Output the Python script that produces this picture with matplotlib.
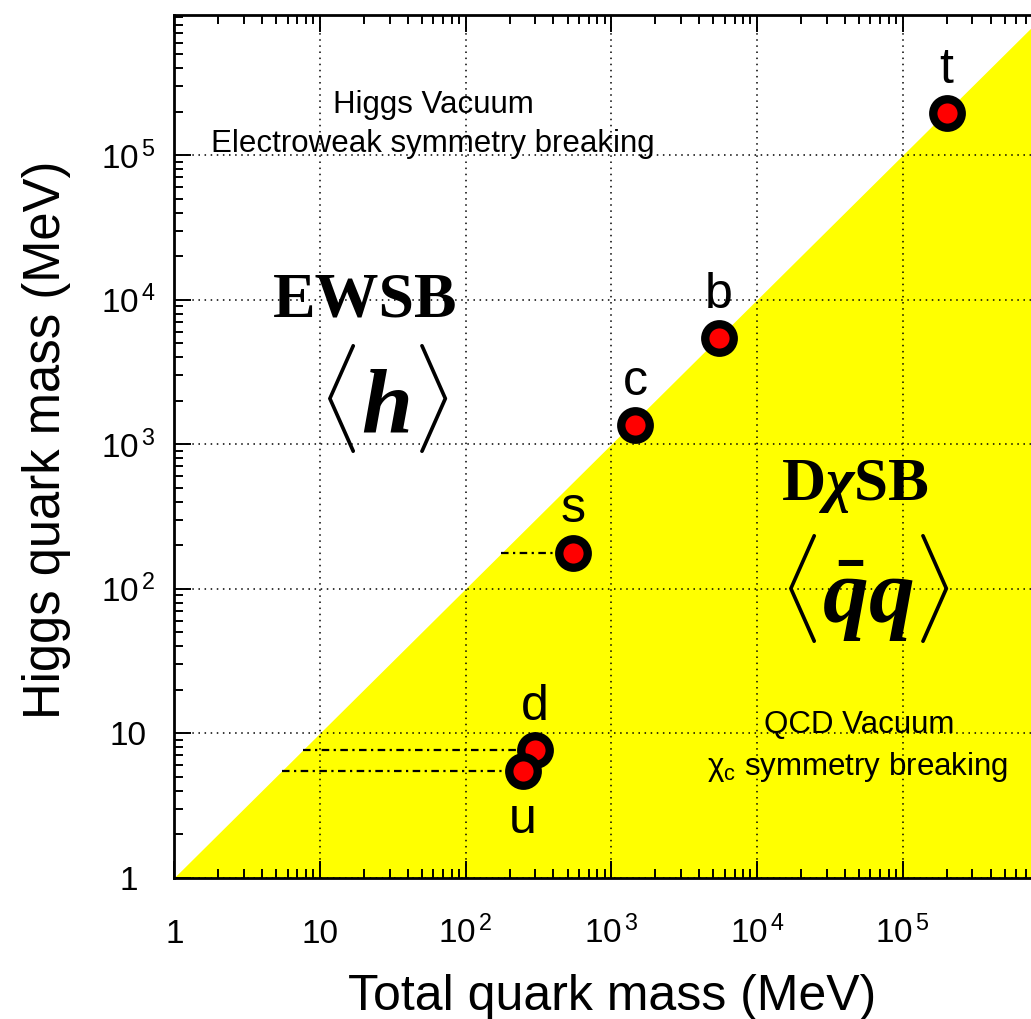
import numpy as np
import matplotlib.pyplot as plt
from matplotlib.ticker import FixedLocator, LogLocator, NullFormatter

plt.rcParams['font.family'] = 'Liberation Sans'
plt.rcParams['mathtext.fontset'] = 'custom'
plt.rcParams['mathtext.rm'] = 'Liberation Sans'
plt.rcParams['mathtext.it'] = 'Liberation Sans:italic'
plt.rcParams['mathtext.bf'] = 'Liberation Serif:bold'
plt.rcParams['mathtext.bfit'] = 'Liberation Serif:italic:bold'

# Quark masses in MeV: total mass vs. the part coming from the Higgs
quarks = ['t', 'b', 'c', 's', 'd', 'u']
total_mass = [2.0e5, 5480, 1450, 545, 299, 247]
higgs_mass = [1.95e5, 5390, 1350, 176, 7.6, 5.5]
label_below = ['u']

decades = [1, 10, 1e2, 1e3, 1e4, 1e5]
decade_labels = ['1', '10', r'$10^{\,2}$', r'$10^{\,3}$', r'$10^{\,4}$', r'$10^{\,5}$']

W, H = 1031, 1019
fig = plt.figure(figsize=(W / 100, H / 100), dpi=100)
# axes run out to 10^6 on the right, past the edge of the canvas
ax = fig.add_axes([174.3 / W, (H - 877.5) / H, 874.2 / W, 862.5 / H])
ax.set_xscale('log')
ax.set_yscale('log')
ax.set_xlim(1, 1e6)
ax.set_ylim(1, 10 ** 5.969)

# region below the diagonal (all mass dynamical)
diag = np.array([1, 1e6])
ax.fill_between(diag, 1, diag, color='#ffff00', lw=0, zorder=0)

ax.grid(True, which='major', color='black', lw=1.1, linestyle=(0, (1, 3)))

# guides from the diagonal to each point
for x, y in zip(total_mass, higgs_mass):
    ax.plot([y, x], [y, y], color='black', lw=1.6, linestyle=(0, (3.4, 2, 1, 2)), zorder=2)

for q, x, y in zip(quarks, total_mass, higgs_mass):
    ax.plot(x, y, 'o', ms=20.5, mfc='red', mec='black', mew=6.0, zorder=3)
    dy = -45 if q in label_below else 22
    ax.annotate(q, (x, y), xytext=(0, dy), textcoords='offset points',
                ha='center', va='baseline', fontsize=36)

# ticks
for axis in (ax.xaxis, ax.yaxis):
    axis.set_major_locator(FixedLocator(decades))
    axis.set_minor_locator(LogLocator(base=10, subs=np.arange(2, 10), numticks=20))
    axis.set_minor_formatter(NullFormatter())
ax.set_xticklabels(decade_labels)
ax.set_yticklabels(decade_labels)
ax.tick_params(which='both', direction='in', top=True, right=True, width=1.4, colors='black')
ax.tick_params(which='major', length=12, labelsize=24)
ax.tick_params(which='minor', length=6.5)
ax.tick_params(axis='x', which='major', pad=47)
ax.tick_params(axis='y', which='major', pad=33)
plt.setp(ax.get_xticklabels(), va='baseline')
plt.setp(ax.get_yticklabels(), ha='center')
for s in ax.spines.values():
    s.set_linewidth(2.0)

# axis titles
fig.text(612 / W, 1 - 1010 / H, 'Total quark mass (MeV)', fontsize=36,
         ha='center', va='baseline')
fig.text(60 / W, 1 - 440 / H, 'Higgs quark mass (MeV)', fontsize=36.5,
         ha='center', va='baseline', rotation=90, rotation_mode='anchor')

# region annotations
ax.text(0.296, 0.886, 'Higgs Vacuum', transform=ax.transAxes, fontsize=22.5,
        ha='center', va='baseline')
ax.text(0.296, 0.841, 'Electroweak symmetry breaking', transform=ax.transAxes,
        fontsize=22.5, ha='center', va='baseline')
ax.text(0.218, 0.650, 'EWSB', transform=ax.transAxes, fontsize=46,
        family='Liberation Serif', weight='bold', ha='center', va='baseline')
ax.text(0.239, 0.5165, r'$\langle\mathbfit{h}\rangle$', transform=ax.transAxes,
        fontsize=66, ha='center', va='baseline')

ax.text(0.779, 0.438, r'D$\mathbfit{\chi}$SB', transform=ax.transAxes, fontsize=44,
        family='Liberation Serif', weight='bold', ha='center', va='baseline')
ax.text(0.789, 0.296, r'$\langle\bar{\mathbfit{q}}\mathbfit{q}\rangle$',
        transform=ax.transAxes, fontsize=66, ha='center', va='baseline')
ax.text(0.783, 0.1675, 'QCD Vacuum', transform=ax.transAxes, fontsize=22.5,
        ha='center', va='baseline')
ax.text(0.782, 0.119, r'$\mathrm{\chi}_{\mathrm{c}}$ symmetry breaking',
        transform=ax.transAxes, fontsize=22.5, ha='center', va='baseline')

fig.savefig('out.png', dpi=100)
